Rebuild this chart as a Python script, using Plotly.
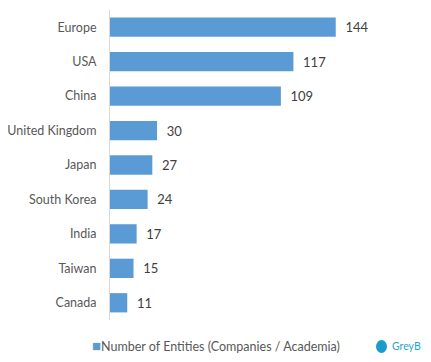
import plotly.graph_objects as go

categories = ["Europe", "USA", "China", "United Kingdom", "Japan", "South Korea", "India", "Taiwan", "Canada"]
values = [144, 117, 109, 30, 27, 24, 17, 15, 11]
series_name = "Number of Entities (Companies / Academia)"
bar_color = "#5B9BD5"

# page body has an 8px default margin; figure sized to fit the window
FW, FH = 415, 346
L, T, PW, PH = 102, 2, 301, 310

def px(x):
    return (x - L) / PW

def py(y):
    return (T + PH - y) / PH

fig = go.Figure(go.Bar(
    y=categories, x=values, orientation="h",
    name=series_name,
    marker=dict(color=bar_color, line=dict(width=0)),
    width=0.56,
    text=values, texttemplate="  %{x}", textposition="outside",
    textfont=dict(color="#404040", size=13, family="Lato"),
    cliponaxis=False,
    showlegend=False,
))

fig.update_layout(
    width=FW, height=FH,
    margin=dict(l=L, r=FW - L - PW, t=T, b=FH - T - PH, autoexpand=False),
    paper_bgcolor="white", plot_bgcolor="white",
    font=dict(family="Lato", color="#595959", size=12.5),
    xaxis=dict(range=[0, 192], visible=False, showgrid=False, zeroline=False),
    yaxis=dict(autorange="reversed", showline=True, linecolor="#d9d9d9", linewidth=1,
               ticks="", ticklabelstandoff=10, showgrid=False, automargin=False),
)

# legend drawn as annotation (series name from data)
fig.add_annotation(xref="paper", yref="paper", x=px(82), y=py(337),
                   xanchor="left", yanchor="middle", showarrow=False,
                   text=f"<span style='color:{bar_color};font-size:15px'>■</span>{series_name}",
                   font=dict(size=12.5, color="#595959", family="Lato"))

fig.add_annotation(xref="paper", yref="paper", x=px(382), y=py(338),
                   xanchor="left", yanchor="middle", showarrow=False,
                   text="GreyB", font=dict(color="#2AA5C9", size=10.5, family="Lato"))
fig.add_shape(type="circle", xref="paper", yref="paper",
              x0=px(368), x1=px(379), y0=py(332), y1=py(345),
              fillcolor="#1B9BC9", line=dict(width=0))

fig.write_html("out.html")
